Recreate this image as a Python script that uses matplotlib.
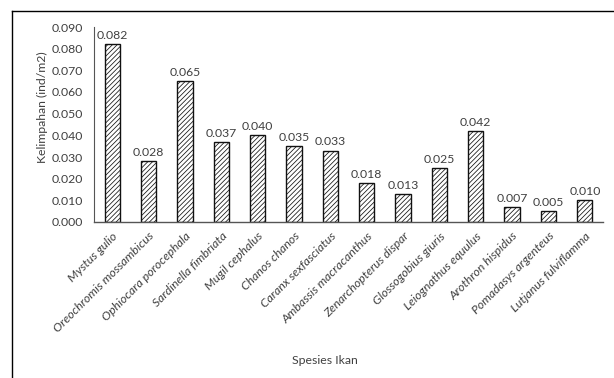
import matplotlib
matplotlib.use("Agg")
import matplotlib.pyplot as plt
from matplotlib.lines import Line2D

plt.rcParams['font.family'] = ['Lato', 'DejaVu Sans']
plt.rcParams['hatch.linewidth'] = 0.55

species = ["Mystus gulio", "Oreochromis mossambicus", "Ophiocara porocephala",
           "Sardinella fimbriata", "Mugil cephalus", "Chanos chanos",
           "Caranx sexfasciatus", "Ambassis macracanthus", "Zenarchopterus dispar",
           "Glossogobius giuris", "Leiognathus equulus", "Arothron hispidus",
           "Pomadasys argenteus", "Lutjanus fulviflamma"]
abundance = [0.082, 0.028, 0.065, 0.037, 0.040, 0.035, 0.033, 0.018,
             0.013, 0.025, 0.042, 0.007, 0.005, 0.010]
yticks = [0.000, 0.010, 0.020, 0.030, 0.040, 0.050, 0.060, 0.070, 0.080, 0.090]

text_col = "#404040"
fs = 8.8

fig = plt.figure(figsize=(6.14, 3.78), dpi=100)
ax = fig.add_axes([94/614, 1-222/378, (603-94)/614, (222-27)/378])

x = list(range(len(species)))
ax.bar(x, abundance, width=0.42, color="white", edgecolor="#111111",
       linewidth=1.0, hatch="///////")

for xi, v in zip(x, abundance):
    ax.text(xi, v + 0.0015, f"{v:.3f}", ha="center", va="bottom",
            fontsize=fs, color=text_col)

ax.set_xlim(-0.5, len(species) - 0.5)
ax.set_ylim(0, 0.09)
ax.set_yticks(yticks)
ax.set_yticklabels([f"{t:.3f}" for t in yticks], fontsize=fs, color=text_col)
ax.set_xticks(x)
ax.set_xticklabels(species, rotation=45, ha="right", rotation_mode="anchor",
                   fontsize=fs, style="italic", color=text_col)
ax.tick_params(axis="both", length=0)
ax.tick_params(axis="y", pad=8)
ax.tick_params(axis="x", pad=6)

for s in ["top", "right"]:
    ax.spines[s].set_visible(False)
ax.spines["left"].set_color("#555555")
ax.spines["left"].set_linewidth(0.8)
ax.spines["bottom"].set_color("#555555")
ax.spines["bottom"].set_linewidth(1.0)

fig.text(42/614, 1-107/378, "Kelimpahan (ind/m2)", rotation=90, ha="center",
         va="center", fontsize=fs, color=text_col)
fig.text(325/614, 1-361/378, "Spesies Ikan", ha="center", va="center",
         fontsize=fs, color=text_col)

# outer frame (top and left edges)
fig.add_artist(Line2D([12/614, 12/614], [0, 1-11/378], transform=fig.transFigure,
                      color="black", linewidth=1.0))
fig.add_artist(Line2D([12/614, 1], [1-11/378, 1-11/378], transform=fig.transFigure,
                      color="black", linewidth=1.0))

fig.savefig("out.png", dpi=100)
